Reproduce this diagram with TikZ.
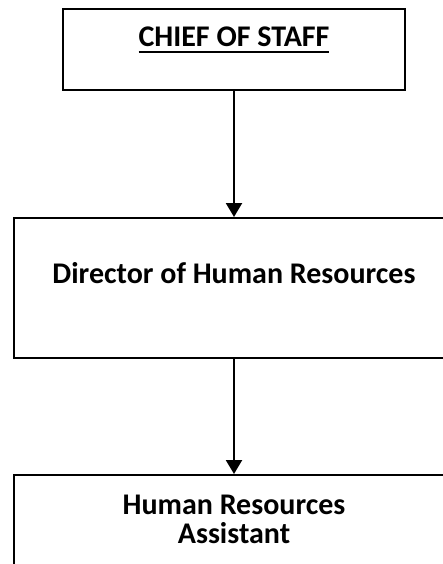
\documentclass[tikz,border=0pt]{standalone}
\usepackage{fontspec}
\setmainfont{Carlito}
\usetikzlibrary{arrows.meta}
\newcommand{\thickul}[1]{\setbox0\hbox{#1}\rlap{\rule[-7pt]{\wd0}{2.2pt}}\box0}

\begin{document}
\begin{tikzpicture}[x=1pt,y=1pt,
  post/.style={draw, line width=2.4pt, inner sep=0pt, anchor=north, align=center,
    font=\fontsize{30}{29}\selectfont\bfseries},
  link/.style={line width=2.2pt, -{Triangle[width=16pt,length=14pt]}}]
  \useasboundingbox (0,0) rectangle (443,-564);
  %boxes
  \node[post, minimum width=342, text height=37, text depth=44] (chief) at (234,-8) {\thickul{CHIEF OF STAFF}};
  \node[post, minimum width=440, text height=65, text depth=75] (director) at (234,-217) {Director of Human Resources};
  \node[post, minimum width=440, text height=68, text depth=50] (assistant) at (234,-474) {Human Resources\\Assistant};
  %links
  \draw[link] (chief) -- (director);
  \draw[link] (director) -- (assistant);
\end{tikzpicture}
\end{document}
